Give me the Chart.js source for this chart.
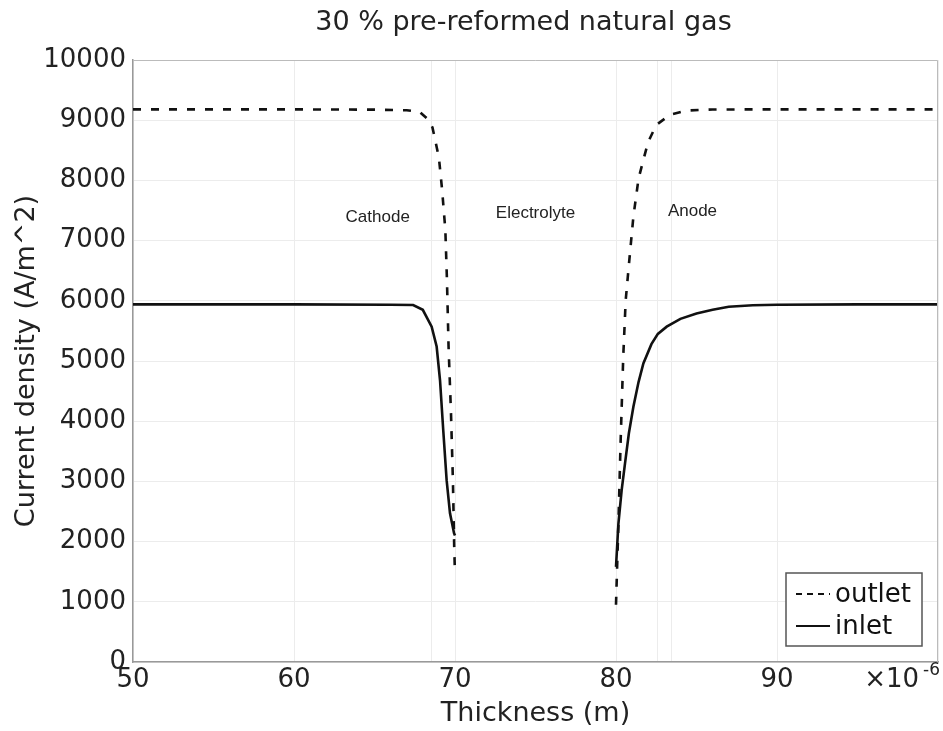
<!DOCTYPE html>
<html>
  <head>
    <meta charset="utf-8">
    <style>
      html, body { margin: 0; padding: 0; background: #fff; }
      #chart-area { display: block; }
    </style>
  </head>
  <body>
    <canvas id="chart-area" width="943" height="731"></canvas>

    <script src="https://cdn.jsdelivr.net/npm/chart.js@4/dist/chart.umd.min.js"></script>
    <script>
      // thickness in micrometres (axis shows x10^-6 m), current density in A/m^2
      var outletX = [50, 55, 60, 65, 67, 67.8, 68.3, 68.6, 69.0, 69.2, 69.4, 69.5, 69.6, 69.75, 69.87, 69.95, 70.0,
                     80.0, 80.15, 80.29, 80.45, 80.6, 80.77, 81.08, 81.4, 81.7, 82.0, 82.5, 83.35, 84.4, 86, 90, 95, 100];
      var outletY = [9180, 9180, 9180, 9175, 9165, 9140, 9020, 8880, 8380, 7840, 7180, 6350, 5240, 4140, 3020, 1920, 1450,
                     950, 2300, 3690, 5070, 6000, 6510, 7400, 8030, 8340, 8640, 8920, 9090, 9160, 9178, 9180, 9180, 9180];

      var inletX = [50, 60, 66, 67.4, 68.0, 68.55, 68.86, 69.07, 69.27, 69.48, 69.69, 69.94, 70.0,
                    80.0, 80.15, 80.35, 80.56, 80.8, 81.08, 81.4, 81.7, 82.2, 82.6, 83.15, 84, 85, 86, 87, 88.5, 90, 95, 100];
      var inletY = [5940, 5940, 5935, 5930, 5850, 5570, 5240, 4680, 3850, 3020, 2470, 2140, 2100,
                    1580, 2300, 2850, 3300, 3800, 4240, 4650, 4960, 5280, 5450, 5570, 5700, 5790, 5850, 5900, 5925, 5935, 5940, 5940];

      var xTicks = [50, 60, 70, 80, 90, 100];
      var extraGridX = [68.55, 82.6, 83.45];   // layer boundary lines in the plot
      var yMin = 0, yMax = 10000, yStep = 1000;

      var chartTitle = '30 % pre-reformed natural gas';
      var layerLabels = [
        { text: 'Cathode', x: 65.2, y: 7380 },
        { text: 'Electrolyte', x: 75.0, y: 7460 },
        { text: 'Anode', x: 84.75, y: 7490 }
      ];

      var toPoints = function(xs, ys) {
        var pts = [];
        for (var i = 0; i < xs.length; i++) {
          // break the line across the electrolyte gap
          if (i > 0 && xs[i - 1] <= 70 && xs[i] >= 80) pts.push({ x: 75, y: null });
          pts.push({ x: xs[i], y: ys[i] });
        }
        return pts;
      };

      var mainFont = "'DejaVu Sans', sans-serif";

      // text layer: title, layer names, the x10^-6 exponent and the boxed legend
      var overlay = {
        id: 'overlay',
        afterDraw: function(chart) {
          var ctx = chart.ctx;
          var xs = chart.scales.x, ys = chart.scales.y;
          var area = chart.chartArea;
          ctx.save();

          // title, roughly centred over the plot box
          ctx.fillStyle = '#222';
          ctx.font = '27px ' + mainFont;
          ctx.textAlign = 'center';
          ctx.textBaseline = 'middle';
          ctx.fillText(chartTitle, (area.left + area.right) / 2 - 12, 23);

          ctx.font = "17px 'Liberation Sans', Arial, sans-serif";
          layerLabels.forEach(function(l) {
            ctx.fillText(l.text, xs.getPixelForValue(l.x), ys.getPixelForValue(l.y));
          });

          // exponent at the last x tick
          var px = xs.getPixelForValue(100);
          ctx.font = '26px ' + mainFont;
          ctx.textAlign = 'right';
          ctx.fillText('\u00d710', px - 19, area.bottom + 18);
          ctx.font = '17px ' + mainFont;
          ctx.fillText('-6', px + 2, area.bottom + 9);

          // legend box
          var bx = area.right - 152, by = area.bottom - 89, bw = 136, bh = 73;
          ctx.fillStyle = '#fff';
          ctx.fillRect(bx, by, bw, bh);
          ctx.strokeStyle = '#555';
          ctx.lineWidth = 1.5;
          ctx.strokeRect(bx, by, bw, bh);

          var rows = [
            { name: 'outlet', dash: [6, 5], y: by + 21 },
            { name: 'inlet', dash: [], y: by + 53 }
          ];
          rows.forEach(function(r) {
            ctx.beginPath();
            ctx.setLineDash(r.dash);
            ctx.strokeStyle = '#111';
            ctx.lineWidth = 2;
            ctx.moveTo(bx + 10, r.y);
            ctx.lineTo(bx + 44, r.y);
            ctx.stroke();
            ctx.setLineDash([]);
            ctx.fillStyle = '#111';
            ctx.font = '26px ' + mainFont;
            ctx.textAlign = 'left';
            ctx.textBaseline = 'middle';
            ctx.fillText(r.name, bx + 49, r.y + 1);
          });
          ctx.restore();
        }
      };

      var whiteBg = {
        id: 'whiteBg',
        beforeDraw: function(chart) {
          var ctx = chart.ctx;
          ctx.save();
          ctx.fillStyle = '#fff';
          ctx.fillRect(0, 0, chart.width, chart.height);
          ctx.restore();
        }
      };

      var ctx = document.getElementById('chart-area').getContext('2d');
      var chart = new Chart(ctx, {
        type: 'line',
        data: {
          datasets: [{
            label: 'outlet',
            data: toPoints(outletX, outletY),
            borderColor: '#111',
            borderWidth: 2.6,
            borderDash: [8, 10],
            pointRadius: 0,
            tension: 0,
            spanGaps: false
          }, {
            label: 'inlet',
            data: toPoints(inletX, inletY),
            borderColor: '#111',
            borderWidth: 2.6,
            pointRadius: 0,
            tension: 0,
            spanGaps: false
          }]
        },
        options: {
          responsive: false,
          animation: false,
          layout: { padding: { left: 0, right: 5, top: 60, bottom: 0 } },
          plugins: {
            legend: { display: false },
            tooltip: { enabled: false },
            title: { display: false }
          },
          scales: {
            x: {
              type: 'linear',
              min: 50,
              max: 100,
              afterBuildTicks: function(scale) {
                var t = xTicks.concat(extraGridX).sort(function(a, b) { return a - b; });
                scale.ticks = t.map(function(v) { return { value: v }; });
              },
              afterFit: function(scale) { scale.height = 69; },
              ticks: {
                autoSkip: false,
                maxRotation: 0,
                padding: 2.4,
                color: '#222',
                font: { family: mainFont, size: 26 },
                callback: function(v) {
                  return (xTicks.indexOf(v) >= 0 && v !== 100) ? String(v) : '';
                }
              },
              grid: { color: '#ececec', lineWidth: 1, drawTicks: false },
              border: { display: true, color: '#999', width: 1.5 },
              title: {
                display: true,
                text: 'Thickness (m)',
                color: '#222',
                font: { family: mainFont, size: 27, lineHeight: 1.2 },
                padding: { top: 0, bottom: 0.8 }
              }
            },
            y: {
              min: yMin,
              max: yMax,
              afterFit: function(scale) { scale.width = 133; },
              ticks: {
                stepSize: yStep,
                padding: 7,
                color: '#222',
                font: { family: mainFont, size: 26 },
                callback: function(v) { return String(v); }
              },
              grid: { color: '#ececec', lineWidth: 1, drawTicks: false },
              border: { display: true, color: '#999', width: 1.5 },
              title: {
                display: true,
                text: 'Current density (A/m^2)',
                color: '#222',
                font: { family: mainFont, size: 27, lineHeight: 1.2 },
                padding: { top: 11, bottom: 0 }
              }
            }
          }
        },
        plugins: [whiteBg, overlay, {
          // close the plot frame on top and right
          id: 'frame',
          afterDatasetsDraw: function(chart) {
            var a = chart.chartArea, c = chart.ctx;
            c.save();
            c.strokeStyle = '#bbb';
            c.lineWidth = 1;
            c.beginPath();
            c.moveTo(a.left, a.top + 0.5);
            c.lineTo(a.right - 0.5, a.top + 0.5);
            c.lineTo(a.right - 0.5, a.bottom);
            c.stroke();
            c.restore();
          }
        }]
      });
    </script>
  </body>
</html>
